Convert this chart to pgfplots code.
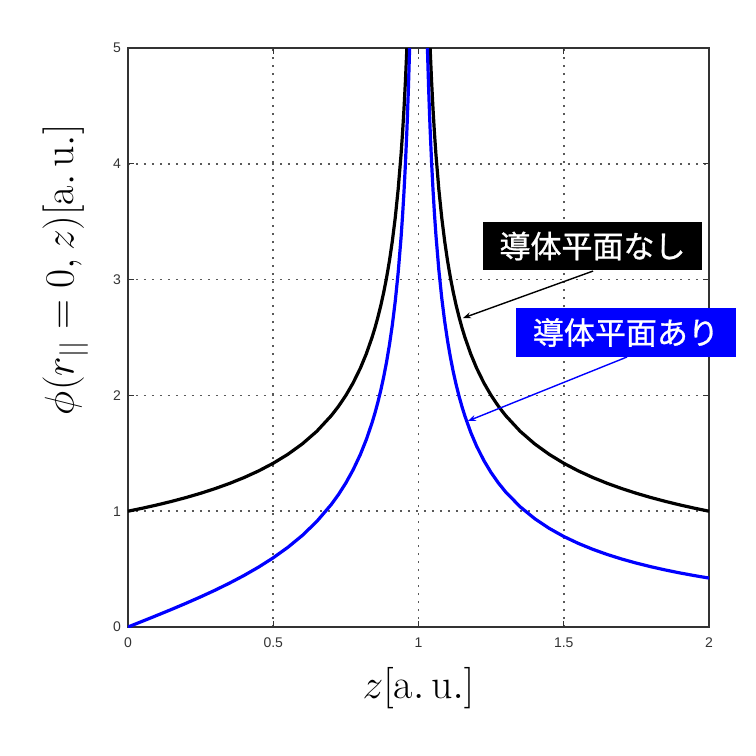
\documentclass[border=0pt]{standalone}
\usepackage{fontspec}
\setsansfont{Liberation Sans}
\newfontfamily\cjk{Noto Sans CJK JP}[AutoFakeBold=0.9]
\usepackage{pgfplots}
\pgfplotsset{compat=1.18}
\usetikzlibrary{arrows.meta}
\definecolor{pureblue}{RGB}{0,0,255}
\definecolor{axisgray}{RGB}{51,51,51}

\begin{document}
\begin{tikzpicture}
\useasboundingbox (-64pt,-64.5pt) rectangle (314pt,313.5pt);
\begin{axis}[
    at={(0,0)}, anchor=south west,
    scale only axis,
    width=290.5pt, height=289.5pt,
    xmin=0, xmax=2, ymin=0, ymax=5,
    xtick={0,0.5,1,1.5,2},
    ytick={0,1,2,3,4,5},
    xticklabels={0,0.5,1,1.5,2},
    tick align=inside,
    major tick length=3pt,
    tick style={axisgray, line width=0.6pt},
    axis line style={axisgray, line width=0.9pt},
    grid=major,
    major grid style={black!65, line width=0.8pt, dash pattern=on 0.8pt off 3.2pt},
    /pgf/number format/assume math mode=true,
    ticklabel style={font=\sffamily\fontsize{7}{8}\selectfont, text=axisgray},
    xticklabel style={yshift=-2pt},
    xlabel={$z[\mathrm{a.\,u.}]$},
    ylabel={$\phi(r_{||}=0,z)[\mathrm{a.\,u.}]$},
    label style={font=\fontsize{21}{25}\selectfont},
    xlabel style={at={(axis description cs:0.5,-0.105)}, anchor=center},
    ylabel style={at={(axis description cs:-0.108,0.617)}, anchor=center, rotate=0},
    clip=true,
  ]
  % without conductor plane, left and right branch
  \addplot[black, line width=1.6pt, line join=round] coordinates {
    (0,1) (0.05,1.02598) (0.1,1.05409) (0.15,1.08465) (0.2,1.11803)
    (0.25,1.15470) (0.3,1.19523) (0.35,1.24035) (0.4,1.29099) (0.45,1.34840)
    (0.5,1.41421) (0.55,1.49071) (0.6,1.58114) (0.65,1.69031) (0.7,1.82574)
    (0.725,1.90693) (0.75,2) (0.775,2.10819) (0.8,2.23607) (0.82,2.35702)
    (0.84,2.5) (0.85,2.58199) (0.86,2.67261) (0.87,2.77350) (0.88,2.88675)
    (0.89,3.01511) (0.9,3.16228) (0.91,3.33333) (0.92,3.53553) (0.93,3.77964)
    (0.94,4.08248) (0.945,4.26401) (0.95,4.47214) (0.955,4.71405) (0.96,5)
    (0.965,5.34522) (0.97,5.77350) };
  \addplot[black, line width=1.6pt, line join=round] coordinates {
    (1.03,5.77350) (1.035,5.34522) (1.04,5) (1.045,4.71405) (1.05,4.47214)
    (1.055,4.26401) (1.06,4.08248) (1.07,3.77964) (1.08,3.53553) (1.09,3.33333)
    (1.1,3.16228) (1.11,3.01511) (1.12,2.88675) (1.13,2.77350) (1.14,2.67261)
    (1.15,2.58199) (1.16,2.5) (1.18,2.35702) (1.2,2.23607) (1.225,2.10819)
    (1.25,2) (1.275,1.90693) (1.3,1.82574) (1.35,1.69031) (1.4,1.58114)
    (1.45,1.49071) (1.5,1.41421) (1.55,1.34840) (1.6,1.29099) (1.65,1.24035)
    (1.7,1.19523) (1.75,1.15470) (1.8,1.11803) (1.85,1.08465) (1.9,1.05409)
    (1.95,1.02598) (2,1) };
  % with conductor plane
  \addplot[pureblue, line width=1.6pt, line join=round] coordinates {
    (0,0) (0.05,0.05008) (0.1,0.10063) (0.15,0.15214) (0.2,0.20516)
    (0.25,0.26027) (0.3,0.31817) (0.35,0.37969) (0.4,0.44584) (0.45,0.51794)
    (0.5,0.59771) (0.55,0.68749) (0.6,0.79057) (0.65,0.91181) (0.7,1.05877)
    (0.725,1.14554) (0.75,1.24407) (0.775,1.35760) (0.8,1.49071) (0.82,1.61577)
    (0.84,1.76279) (0.85,1.84677) (0.86,1.93937) (0.87,2.04223) (0.88,2.15742)
    (0.89,2.28772) (0.9,2.43680) (0.91,2.60976) (0.92,2.81384) (0.93,3.05982)
    (0.94,3.36452) (0.945,3.54698) (0.95,3.75602) (0.955,3.99885) (0.96,4.28571)
    (0.962,4.41597) (0.965,4.63184) (0.968,4.87734) (0.97,5.06103) (0.975,5.61299) };
  \addplot[pureblue, line width=1.6pt, line join=round] coordinates {
    (1.025,5.62) (1.03,5.07164) (1.032,4.88865) (1.035,4.64422) (1.038,4.42941)
    (1.04,4.29986) (1.045,4.01477) (1.05,3.77371) (1.055,3.56643) (1.06,3.38575)
    (1.07,3.08459) (1.08,2.84215) (1.09,2.64162) (1.1,2.47221) (1.11,2.32668)
    (1.12,2.19995) (1.13,2.08831) (1.14,1.98902) (1.15,1.90000) (1.16,1.81959)
    (1.18,1.67974) (1.2,1.56187) (1.225,1.43779) (1.25,1.33333) (1.275,1.24394)
    (1.3,1.16636) (1.35,1.03798) (1.4,0.93564) (1.45,0.85183) (1.5,0.78175)
    (1.55,0.72218) (1.6,0.67082) (1.65,0.62605) (1.7,0.58665) (1.75,0.55168)
    (1.8,0.52042) (1.85,0.49230) (1.9,0.46687) (1.95,0.44376) (2,0.42265) };
  \coordinate (nobox) at (axis cs:1.599,3.290);
  \coordinate (notail) at (axis cs:1.601,3.074);
  \coordinate (notip) at (axis cs:1.153,2.668);
  \coordinate (withbox) at (axis cs:1.714,2.543);
  \coordinate (withtail) at (axis cs:1.718,2.332);
  \coordinate (withtip) at (axis cs:1.170,1.779);
\end{axis}
\draw[black, line width=0.7pt, -{Stealth[length=4pt, width=3pt]}] (notail) -- (notip);
\draw[pureblue, line width=0.7pt, -{Stealth[length=4pt, width=3pt]}] (withtail) -- (withtip);
\node[fill=black, text=white, minimum width=109.5pt, minimum height=24pt, inner sep=0pt,
  font=\cjk\bfseries\fontsize{15.5}{18}\selectfont] at (nobox) {導体平面なし};
\node[fill=pureblue, text=white, minimum width=110pt, minimum height=24.5pt, inner sep=0pt,
  font=\cjk\bfseries\fontsize{15.5}{18}\selectfont] at (withbox) {導体平面あり};
\end{tikzpicture}
\end{document}
